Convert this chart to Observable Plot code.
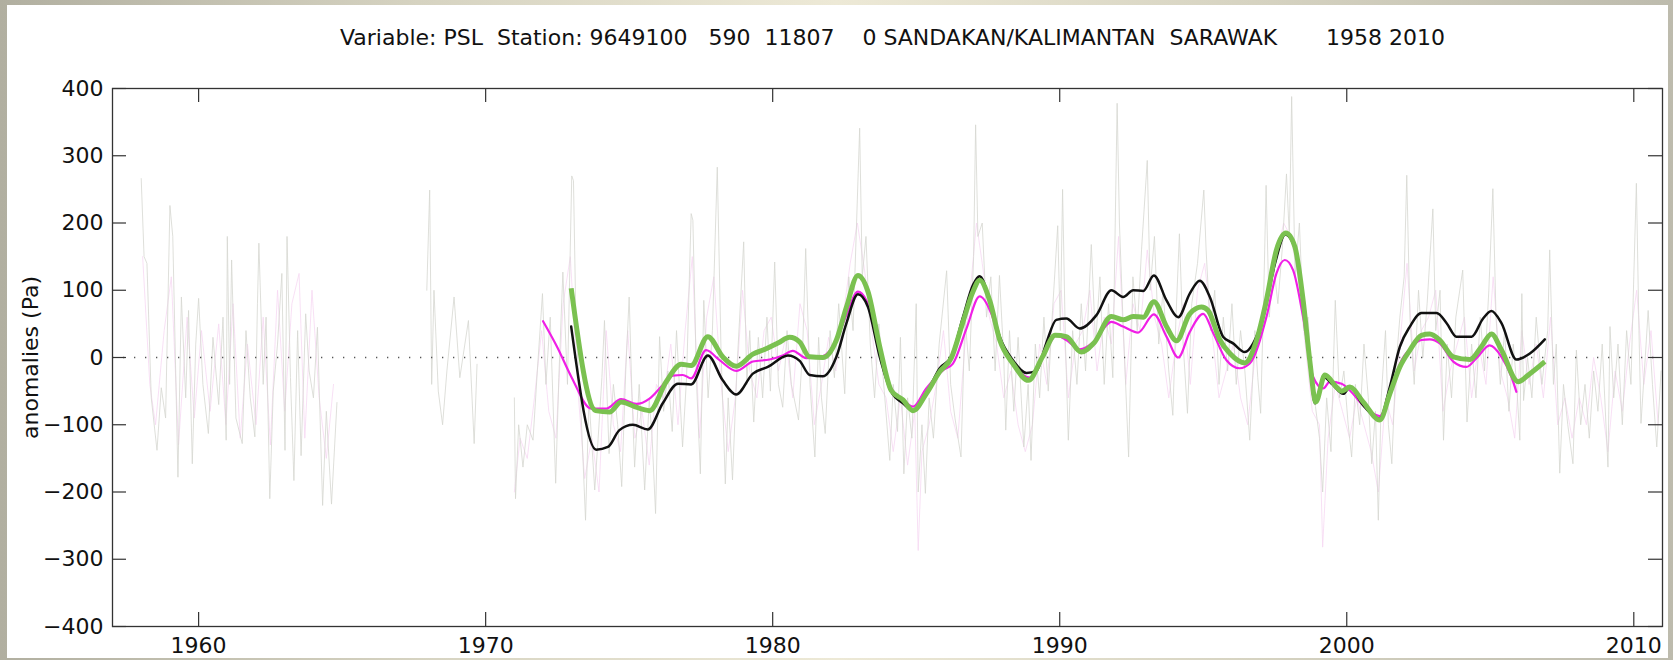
<!DOCTYPE html>
<html><head><meta charset="utf-8">
<script src="https://cdn.jsdelivr.net/npm/d3@7"></script>
<script src="https://cdn.jsdelivr.net/npm/@observablehq/plot@0.6"></script>
<style>
html,body{margin:0;padding:0;}
#wrap{position:relative;width:1673px;height:660px;overflow:hidden;
 background:linear-gradient(to right,#b1afa0 0%,#d6d3c1 25%,#ede9d6 50%,#d6d3c1 75%,#bdbbad 100%);}
#paper{position:absolute;left:7px;top:5px;width:1661px;height:653px;background:#fff;}
#chart{position:absolute;left:0;top:0;}
</style></head><body>
<div id="wrap"><div id="paper"></div><div id="chart"></div></div>
<script>
// ---- data ----
const titleText = "Variable: PSL  Station: 9649100   590  11807    0 SANDAKAN/KALIMANTAN  SARAWAK       1958 2010";
const yLabel = "anomalies (Pa)";
const xTicks = [1960, 1970, 1980, 1990, 2000, 2010];
const yTicks = [-400, -300, -200, -100, 0, 100, 200, 300, 400];

// faint grey monthly anomalies (three segments)
const grayA = [[1958.00,266],[1958.10,150],[1958.20,140],[1958.35,-60],[1958.55,-138],[1958.70,-45],[1958.85,-90],[1959.00,226],[1959.10,180],[1959.28,-178],[1959.40,90],[1959.55,-60],[1959.65,70],[1959.78,-158],[1959.90,20],[1960.00,88],[1960.15,-40],[1960.34,-113],[1960.50,30],[1960.70,-70],[1960.85,60],[1960.96,-123],[1961.00,180],[1961.08,-40],[1961.15,145],[1961.30,-90],[1961.52,-128],[1961.65,40],[1961.80,-60],[1961.96,-118],[1962.05,80],[1962.10,170],[1962.25,-40],[1962.35,60],[1962.48,-210],[1962.60,-50],[1962.75,20],[1962.90,125],[1963.01,-138],[1963.08,180],[1963.20,-30],[1963.32,-183],[1963.45,40],[1963.57,-146],[1963.73,65],[1963.85,-20],[1964.00,-60],[1964.14,45],[1964.32,-220],[1964.45,-80],[1964.63,-218],[1964.82,-67]];
const grayB = [[1967.95,100],[1968.05,249],[1968.12,-40],[1968.20,100],[1968.35,-50],[1968.50,-100],[1968.65,-20],[1968.90,90],[1969.10,-30],[1969.40,55],[1969.60,-128],[1969.70,-10]];
const grayC = [[1971.00,-60],[1971.04,-210],[1971.15,-100],[1971.30,-163],[1971.45,-100],[1971.65,-123],[1971.80,-20],[1971.98,95],
[1972.10,-40],[1972.25,60],[1972.44,-187],[1972.55,-30],[1972.69,127],[1972.85,-40],
[1973.00,270],[1973.06,263],[1973.15,40],[1973.33,-88],[1973.48,-242],[1973.60,-60],[1973.80,-197],[1973.92,-120],
[1974.05,-30],[1974.14,55],[1974.30,-143],[1974.45,-40],[1974.60,-100],[1974.74,-192],[1974.88,-20],
[1975.00,90],[1975.10,-60],[1975.19,-163],[1975.35,-40],[1975.54,-197],[1975.70,-63],[1975.80,-120],[1975.92,-232],
[1976.06,31],[1976.20,-80],[1976.35,-20],[1976.50,-110],[1976.65,40],[1976.86,-133],
[1977.00,-30],[1977.16,214],[1977.22,204],[1977.35,-40],[1977.48,-173],[1977.60,85],[1977.75,-60],[1977.90,40],
[1978.07,283],[1978.20,10],[1978.35,-188],[1978.45,-60],[1978.60,-182],[1978.75,-20],[1978.99,172],
[1979.10,-40],[1979.20,40],[1979.34,-96],[1979.50,30],[1979.65,-60],[1979.80,60],[1979.92,-50],
[1980.07,142],[1980.20,-40],[1980.35,-74],[1980.50,40],[1980.65,-40],[1980.90,-93],
[1981.05,20],[1981.15,162],[1981.30,-40],[1981.47,-148],[1981.60,30],[1981.70,-60],[1981.83,-113],
[1982.00,40],[1982.15,-30],[1982.30,80],[1982.51,-54],[1982.65,120],[1982.80,40],
[1983.03,341],[1983.12,120],[1983.25,180],[1983.40,20],[1983.55,-60],[1983.70,50],[1983.85,-30],
[1984.08,-153],[1984.20,-40],[1984.35,-110],[1984.45,30],[1984.57,-173],[1984.70,-60],[1984.85,-120],
[1985.00,80],[1985.07,-200],[1985.20,-100],[1985.32,-202],[1985.45,-60],[1985.60,-120],[1985.80,20],
[1986.06,129],[1986.20,-40],[1986.35,-90],[1986.56,-148],[1986.70,60],[1986.85,-20],
[1987.00,150],[1987.07,346],[1987.15,180],[1987.30,200],[1987.45,60],[1987.60,120],[1987.75,-20],[1987.90,122],
[1988.05,0],[1988.12,-108],[1988.25,40],[1988.40,-80],[1988.55,30],[1988.75,-133],[1988.90,-40],
[1989.00,-153],[1989.15,20],[1989.30,-60],[1989.45,60],[1989.60,-50],[1989.75,70],[1989.93,196],
[1990.02,40],[1990.10,250],[1990.20,20],[1990.30,-123],[1990.45,40],[1990.60,-40],[1990.75,80],[1990.90,-20],
[1991.10,168],[1991.25,20],[1991.40,120],[1991.55,-40],[1991.70,80],[1991.85,-30],
[1992.00,378],[1992.08,200],[1992.20,60],[1992.40,-148],[1992.55,120],[1992.70,40],[1992.85,160],
[1993.05,293],[1993.15,100],[1993.30,180],[1993.45,20],[1993.60,100],[1993.80,-20],[1993.94,-86],
[1994.05,60],[1994.17,184],[1994.30,20],[1994.45,-83],[1994.60,80],[1994.80,140],
[1995.02,249],[1995.10,160],[1995.25,40],[1995.40,100],[1995.55,-40],[1995.70,60],[1995.85,-20],
[1996.00,80],[1996.15,-40],[1996.30,40],[1996.45,-20],[1996.62,-123],[1996.80,40],[1996.90,-30],
[1997.00,-83],[1997.10,80],[1997.19,256],[1997.30,60],[1997.45,140],[1997.60,80],[1997.75,160],[1997.90,273],
[1998.00,180],[1998.08,388],[1998.20,120],[1998.35,200],[1998.50,40],[1998.65,60],[1998.80,-40],[1998.91,-73],
[1999.05,-120],[1999.16,-200],[1999.30,-60],[1999.45,-140],[1999.60,85],[1999.75,-60],[1999.90,-20],
[2000.05,-100],[2000.17,-148],[2000.30,-40],[2000.45,-100],[2000.60,20],[2000.75,-60],[2000.87,-158],
[2001.00,-80],[2001.10,-242],[2001.20,-60],[2001.35,40],[2001.45,-100],[2001.57,-158],[2001.70,-20],[2001.85,60],
[2002.00,120],[2002.09,271],[2002.20,60],[2002.35,-40],[2002.50,100],[2002.65,0],[2002.80,80],
[2003.00,221],[2003.10,40],[2003.25,100],[2003.37,-123],[2003.50,20],[2003.65,-60],[2003.80,60],
[2004.04,130],[2004.19,-96],[2004.35,20],[2004.50,-60],[2004.65,60],[2004.80,-20],[2004.95,100],
[2005.09,251],[2005.20,60],[2005.35,-40],[2005.50,40],[2005.65,-80],[2005.80,20],[2005.92,-40],
[2006.03,-123],[2006.10,95],[2006.16,-64],[2006.30,0],[2006.45,-60],[2006.60,60],[2006.80,-40],
[2007.00,40],[2007.07,160],[2007.20,-40],[2007.30,20],[2007.42,-172],[2007.55,-40],[2007.70,-100],[2007.88,-158],
[2008.00,11],[2008.15,-100],[2008.30,-40],[2008.45,-120],[2008.60,-20],[2008.75,-80],[2008.90,20],
[2009.10,-163],[2009.17,46],[2009.30,-60],[2009.45,20],[2009.60,-100],[2009.75,40],[2009.90,-40],
[2010.00,120],[2010.09,259],[2010.18,40],[2010.25,-98],[2010.40,0],[2010.50,70],[2010.65,-40],[2010.80,-133],[2010.95,-20]];

// faint pink monthly anomalies (two segments)
const pinkA = [[1958.05,150],[1958.3,-40],[1958.5,-100],[1958.8,40],[1959.05,120],[1959.3,-130],[1959.6,60],[1959.85,-90],[1960.1,40],[1960.4,-80],[1960.7,50],[1960.95,-100],[1961.2,80],[1961.45,-120],[1961.7,20],[1962.0,-100],[1962.25,60],[1962.5,-130],[1962.75,100],[1963.0,-80],[1963.25,80],[1963.5,125],[1963.7,-120],[1963.95,100],[1964.2,-60],[1964.45,-150],[1964.7,-40]];
const pinkC = [[1971.0,-200],[1971.2,-120],[1971.45,-150],[1971.7,-60],[1971.95,40],[1972.2,-80],[1972.45,-120],[1972.7,80],[1972.95,150],[1973.2,-40],[1973.45,-180],[1973.7,-120],[1973.95,-200],[1974.2,40],[1974.45,-100],[1974.7,-140],[1974.95,40],[1975.2,-120],[1975.45,-80],[1975.7,-160],[1975.95,-40],[1976.2,-60],[1976.45,20],[1976.7,-100],[1976.95,40],[1977.2,150],[1977.45,-120],[1977.7,60],[1977.95,120],[1978.2,-40],[1978.45,-140],[1978.7,-60],[1978.95,100],[1979.2,-20],[1979.45,-60],[1979.7,40],[1979.95,60],[1980.2,-20],[1980.45,30],[1980.7,-60],[1980.95,80],[1981.2,40],[1981.45,-100],[1981.7,-40],[1981.95,30],[1982.2,-20],[1982.45,60],[1982.7,140],[1982.95,200],[1983.2,130],[1983.45,40],[1983.7,-40],[1983.95,-60],[1984.2,-140],[1984.45,-60],[1984.7,-160],[1984.95,-80],[1985.07,-287],[1985.2,-140],[1985.45,-100],[1985.7,-40],[1985.95,40],[1986.2,-80],[1986.45,-120],[1986.7,20],[1986.95,130],[1987.1,200],[1987.3,140],[1987.55,60],[1987.8,20],[1988.05,-60],[1988.3,-20],[1988.55,-100],[1988.8,-140],[1989.05,-100],[1989.3,20],[1989.55,-40],[1989.8,80],[1990.05,100],[1990.3,-60],[1990.55,20],[1990.8,40],[1991.05,100],[1991.3,-20],[1991.55,60],[1991.8,20],[1992.05,180],[1992.3,-40],[1992.55,80],[1992.8,40],[1993.05,160],[1993.3,60],[1993.55,20],[1993.8,-60],[1994.05,20],[1994.3,80],[1994.55,-40],[1994.8,100],[1995.05,140],[1995.3,40],[1995.55,-60],[1995.8,-20],[1996.05,20],[1996.3,-60],[1996.55,-100],[1996.8,0],[1997.05,60],[1997.3,100],[1997.55,150],[1997.8,200],[1998.05,180],[1998.3,120],[1998.55,20],[1998.8,-80],[1999.05,-100],[1999.16,-282],[1999.35,-120],[1999.6,-40],[1999.85,-80],[2000.1,-120],[2000.35,-60],[2000.6,-100],[2000.85,-140],[2001.1,-200],[2001.35,-60],[2001.6,-100],[2001.85,20],[2002.1,140],[2002.35,-20],[2002.6,40],[2002.85,60],[2003.1,100],[2003.35,-80],[2003.6,-20],[2003.85,20],[2004.1,60],[2004.35,-60],[2004.6,20],[2004.85,-40],[2005.1,120],[2005.35,-20],[2005.6,-60],[2005.85,-120],[2006.1,40],[2006.35,-40],[2006.6,20],[2006.85,-60],[2007.1,60],[2007.35,-100],[2007.6,-60],[2007.85,-120],[2008.1,-60],[2008.35,-100],[2008.6,0],[2008.85,-60],[2009.1,-140],[2009.35,-20],[2009.6,-80],[2009.85,20],[2010.1,100],[2010.35,-40],[2010.6,40],[2010.85,-100]];

// smoothed series
const magentaSmooth = [[1972.0,54],[1972.5,15],[1973.0,-30],[1973.68,-76],[1974.2,-76],[1974.72,-62],[1975.25,-69],[1975.71,-61],[1976.17,-41],[1976.52,-27],[1976.87,-26],[1977.16,-31],[1977.68,11],[1978.15,-4],[1978.73,-20],[1979.31,-6],[1979.89,-3],[1980.35,3],[1980.7,10],[1981.17,-1],[1981.75,2],[1982.22,26],[1982.57,63],[1982.97,98],[1983.26,85],[1983.73,11],[1984.13,-46],[1984.54,-63],[1984.89,-73],[1985.35,-46],[1985.93,-19],[1986.28,-9],[1986.75,43],[1987.21,91],[1987.62,65],[1987.91,26],[1988.37,-9],[1988.95,-30],[1989.42,1],[1989.88,33],[1990.23,26],[1990.70,12],[1991.16,22],[1991.80,53],[1992.21,46],[1992.73,37],[1993.28,64],[1993.72,31],[1994.13,0],[1994.53,38],[1995.0,65],[1995.35,36],[1995.81,-4],[1996.27,-16],[1996.62,-9],[1997.2,60],[1997.55,125],[1997.84,145],[1998.13,130],[1998.48,60],[1998.83,-29],[1999.18,-46],[1999.41,-36],[1999.82,-39],[2000.11,-49],[2000.57,-71],[2001.15,-87],[2001.5,-54],[2001.91,-4],[2002.2,13],[2002.6,26],[2002.89,27],[2003.24,21],[2003.71,-6],[2004.17,-14],[2004.52,-1],[2004.98,18],[2005.39,1],[2005.74,-29],[2005.91,-51]];
const blackSmooth = [[1972.98,46],[1973.85,-137],[1974.26,-133],[1974.66,-108],[1975.13,-100],[1975.65,-107],[1976.17,-68],[1976.7,-39],[1977.16,-40],[1977.74,3],[1978.26,-34],[1978.73,-55],[1979.31,-24],[1979.83,-14],[1980.53,3],[1980.94,-5],[1981.29,-26],[1981.75,-28],[1982.22,1],[1982.57,51],[1982.97,94],[1983.32,75],[1983.73,1],[1984.13,-51],[1984.54,-68],[1984.89,-79],[1985.35,-54],[1985.82,-16],[1986.22,1],[1986.63,60],[1986.98,108],[1987.21,121],[1987.56,85],[1987.91,31],[1988.37,-4],[1988.84,-23],[1989.19,-20],[1989.53,21],[1989.88,56],[1990.23,58],[1990.7,43],[1991.28,63],[1991.80,100],[1992.21,90],[1992.56,100],[1992.91,99],[1993.28,122],[1993.72,85],[1994.13,60],[1994.53,95],[1994.88,114],[1995.23,90],[1995.69,31],[1996.04,21],[1996.45,8],[1996.74,21],[1997.09,60],[1997.5,140],[1997.86,183],[1998.19,163],[1998.48,85],[1998.71,-4],[1998.89,-68],[1999.2,-29],[1999.5,-40],[1999.88,-54],[2000.11,-44],[2000.57,-71],[2001.15,-91],[2001.5,-44],[2001.85,16],[2002.2,46],[2002.6,66],[2003.13,66],[2003.48,51],[2003.82,31],[2004.35,31],[2004.75,58],[2005.04,69],[2005.39,51],[2005.91,-3],[2006.38,6],[2006.9,27]];
const greenSmooth = [[1972.98,103],[1973.83,-79],[1974.32,-81],[1974.72,-66],[1975.19,-73],[1975.71,-79],[1976.29,-36],[1976.81,-10],[1977.16,-12],[1977.74,31],[1978.26,1],[1978.73,-13],[1979.31,5],[1979.77,13],[1980.2,22],[1980.59,30],[1980.94,23],[1981.28,1],[1981.75,0],[1982.22,26],[1982.57,75],[1982.97,122],[1983.32,98],[1983.73,16],[1984.13,-49],[1984.54,-63],[1984.89,-79],[1985.35,-54],[1985.82,-21],[1986.22,-1],[1986.63,53],[1986.98,98],[1987.21,115],[1987.56,85],[1987.91,26],[1988.37,-9],[1988.91,-34],[1989.4,1],[1989.84,33],[1990.23,31],[1990.75,8],[1991.2,22],[1991.80,61],[1992.21,56],[1992.56,61],[1992.91,60],[1993.28,83],[1993.72,46],[1994.07,25],[1994.53,65],[1994.94,75],[1995.17,70],[1995.58,26],[1995.93,6],[1996.45,-8],[1996.86,26],[1997.2,85],[1997.55,160],[1997.88,185],[1998.19,165],[1998.48,85],[1998.71,-4],[1998.92,-66],[1999.24,-26],[1999.64,-44],[1999.82,-50],[2000.11,-44],[2000.57,-66],[2001.15,-93],[2001.5,-54],[2001.85,-14],[2002.2,11],[2002.6,33],[2002.89,35],[2003.24,26],[2003.71,1],[2004.29,-3],[2004.69,16],[2005.04,35],[2005.39,11],[2005.97,-36],[2006.38,-24],[2006.9,-6]];

// ---- build rows ----
const rows = (pairs, seg) => pairs.map(([t, v]) => ({t, v, seg}));
const grayRows = [...rows(grayA, "a"), ...rows(grayB, "b"), ...rows(grayC, "c")];
const pinkRows = [...rows(pinkA, "a"), ...rows(pinkC, "c")];

const W = 1673, H = 660, mT = 88, mB = 34, mL = 112, mR = 11;
const frameW = W - mL - mR, frameH = H - mT - mB, tickLen = 14;
const axisColor = "#333";
const font = "DejaVu Sans";

const chart = Plot.plot({
  width: W, height: H,
  marginTop: mT, marginBottom: mB, marginLeft: mL, marginRight: mR,
  style: {background: "transparent", fontFamily: font, fontSize: "22px", color: "#111"},
  x: {domain: [1957, 2011], axis: null},
  y: {domain: [-400, 400], axis: null},
  marks: [
    Plot.line(pinkRows, {x: "t", y: "v", z: "seg", stroke: "#f6d8f3", strokeWidth: 0.8}),
    Plot.line(grayRows, {x: "t", y: "v", z: "seg", stroke: "#d6d7d0", strokeWidth: 0.8}),
    Plot.ruleY([0], {stroke: "#555", strokeWidth: 1.3, strokeDasharray: "1.3,9.7"}),
    Plot.line(rows(magentaSmooth, "m"), {x: "t", y: "v", stroke: "#f01fe6", strokeWidth: 2.2, curve: "monotone-x"}),
    Plot.line(rows(blackSmooth, "k"), {x: "t", y: "v", stroke: "#111", strokeWidth: 2.5, curve: "monotone-x"}),
    Plot.line(rows(greenSmooth, "g"), {x: "t", y: "v", stroke: "#7ac150", strokeWidth: 5, curve: "monotone-x", strokeLinejoin: "round", strokeLinecap: "butt"}),
    // inward ticks on all four sides
    Plot.tickY(yTicks, {y: d => d, insetRight: frameW - tickLen, stroke: axisColor, strokeWidth: 1.2}),
    Plot.tickY(yTicks, {y: d => d, insetLeft: frameW - tickLen, stroke: axisColor, strokeWidth: 1.2}),
    Plot.tickX(xTicks, {x: d => d, insetTop: frameH - tickLen, stroke: axisColor, strokeWidth: 1.2}),
    Plot.tickX(xTicks, {x: d => d, insetBottom: frameH - tickLen, stroke: axisColor, strokeWidth: 1.2}),
    Plot.frame({stroke: axisColor, strokeWidth: 1.3}),
    Plot.axisY(yTicks, {anchor: "left", tickSize: 0, tickPadding: 9, fontSize: 22, label: null}),
    Plot.axisX(xTicks, {anchor: "bottom", tickSize: 0, tickPadding: 11, fontSize: 22, label: null, tickFormat: d => String(d)}),
    Plot.text([yLabel], {text: d => d, frameAnchor: "left", textAnchor: "middle", lineAnchor: "middle", rotate: -90, dx: -82, fontSize: 22, fill: "#111"}),
    Plot.text([titleText], {text: d => d.replace(/ /g, "\u00A0"), frameAnchor: "top", textAnchor: "middle", dx: 5, dy: -59, fontSize: 22, fill: "#111"})
  ]
});
document.getElementById("chart").appendChild(chart);
</script>
</body></html>
